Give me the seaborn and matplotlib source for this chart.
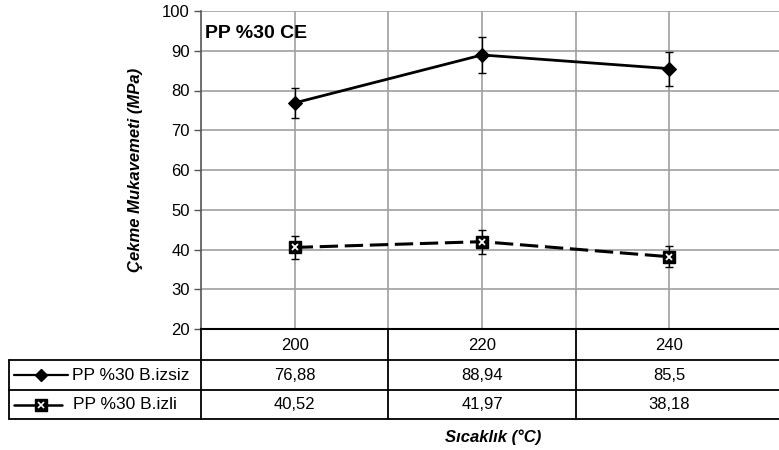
import numpy as np
import pandas as pd
import matplotlib
matplotlib.use("Agg")
import matplotlib.pyplot as plt
import seaborn as sns
from matplotlib.lines import Line2D

# ---- data ----
categories = ["200", "220", "240"]
series_names = ["PP %30 B.izsiz", "PP %30 B.izli"]
vals_izsiz = [76.88, 88.94, 85.5]
vals_izli = [40.52, 41.97, 38.18]
err_izsiz = [3.8, 4.5, 4.3]
err_izli = [2.9, 3.0, 2.65]
labels_izsiz = ["76,88", "88,94", "85,5"]
labels_izli = ["40,52", "41,97", "38,18"]
y_ticks = [20, 30, 40, 50, 60, 70, 80, 90, 100]

sns.set_theme(style="white")
plt.rcParams['font.family'] = ['Liberation Sans', 'DejaVu Sans']
plt.rcParams['text.color'] = 'black'
plt.rcParams['axes.labelcolor'] = 'black'

W, H = 779, 450
fig = plt.figure(figsize=(W / 100, H / 100), dpi=100)

def fy(py):
    return (H - py) / H

def fx(px):
    return px / W

left_px, right_px, top_px, bot_px = 201, 779, 11, 329
ax = fig.add_axes([fx(left_px), fy(bot_px), fx(right_px) - fx(left_px), fy(top_px) - fy(bot_px)])

xpos = np.arange(len(categories))
df = pd.DataFrame({
    "x": np.concatenate([xpos, xpos]),
    "y": vals_izsiz + vals_izli,
    "s": [series_names[0]] * 3 + [series_names[1]] * 3,
})

sns.lineplot(data=df[df.s == series_names[0]], x="x", y="y", ax=ax, color="black",
             lw=2, marker="D", markersize=7.5, markeredgecolor="black", legend=False, zorder=4)
sns.lineplot(data=df[df.s == series_names[1]], x="x", y="y", ax=ax, color="black",
             lw=2.2, legend=False, zorder=4)
ax.lines[-1].set_dashes([6, 2.2])
ax.errorbar(xpos, vals_izsiz, yerr=err_izsiz, fmt="none", ecolor="black", elinewidth=1, capsize=3, capthick=1, zorder=3)
ax.errorbar(xpos, vals_izli, yerr=err_izli, fmt="none", ecolor="black", elinewidth=1, capsize=3, capthick=1, zorder=3)
ax.plot(xpos, vals_izli, ls="none", marker="s", markersize=8, color="black", zorder=5)
ax.plot(xpos, vals_izli, ls="none", marker="x", markersize=4, color="white", mew=1.3, zorder=6)

ax.set_ylim(20, 100)
ax.set_yticks(y_ticks)
ax.set_xlim(-0.5, 2.5 + (right_px - 763) / 187)
ax.set_xticks([])
ax.set_xlabel("")
ax.set_ylabel("Çekme Mukavemeti (MPa)", fontsize=12, fontweight="bold", fontstyle="italic", labelpad=14)
ax.tick_params(axis="y", labelsize=12, length=5, width=1, color="#555555", labelcolor="black",
               direction="out", left=True, pad=3)

# grid
for yv in y_ticks[1:-1] + [100]:
    ax.axhline(yv, color="#a0a0a0", lw=1.2, zorder=1)
for xv in list(xpos) + [0.5, 1.5]:
    ax.axvline(xv, color="#a0a0a0", lw=1.2, zorder=1)

for s in ["top", "right"]:
    ax.spines[s].set_visible(False)
ax.spines["left"].set_color("#555555")
ax.spines["left"].set_linewidth(1.2)
ax.spines["bottom"].set_color("black")
ax.spines["bottom"].set_linewidth(1.5)

ax.text(0.007, 0.93, "PP %30 CE", transform=ax.transAxes, fontsize=14, fontweight="bold",
        ha="left", va="center")

# ---- data table ----
lc = "black"
def hline(py, x0, x1, lw=1.3):
    fig.add_artist(Line2D([fx(x0), fx(x1)], [fy(py), fy(py)], color=lc, lw=lw))
def vline(px, y0, y1, lw=1.3):
    fig.add_artist(Line2D([fx(px), fx(px)], [fy(y0), fy(y1)], color=lc, lw=lw))

def data_to_px(xv):
    disp = ax.transData.transform((xv, 50))
    return disp[0]

hline(360, 9, 779)
hline(390, 9, 779)
hline(419, 9, 779)
vline(201, 329, 419)
vline(9, 360, 419)
for b in [0.5, 1.5]:
    vline(data_to_px(b), 329, 419)

for i, c in enumerate(categories):
    px = data_to_px(xpos[i])
    fig.text(fx(px), fy(345), c, ha="center", va="center", fontsize=12)
    fig.text(fx(px), fy(375), labels_izsiz[i], ha="center", va="center", fontsize=12)
    fig.text(fx(px), fy(404.5), labels_izli[i], ha="center", va="center", fontsize=12)

# legend keys
fig.add_artist(Line2D([fx(14), fx(68)], [fy(375), fy(375)], color="black", lw=1.6))
fig.add_artist(Line2D([fx(41)], [fy(375)], color="black", marker="D", markersize=6, ls="none"))
fig.add_artist(Line2D([fx(14), fx(62)], [fy(404.5), fy(404.5)], color="black", lw=1.8))
fig.add_artist(Line2D([fx(41)], [fy(404.5)], color="black", marker="s", markersize=8, ls="none"))
fig.add_artist(Line2D([fx(41)], [fy(404.5)], color="white", marker="x", markersize=4, mew=1.2, ls="none"))
fig.text(fx(72), fy(375), series_names[0], ha="left", va="center", fontsize=12.5)
fig.text(fx(73), fy(404.5), series_names[1], ha="left", va="center", fontsize=12.5)

fig.text(fx(493), fy(437), "Sıcaklık (°C)", ha="center", va="center", fontsize=12,
         fontweight="bold", fontstyle="italic")

fig.savefig("out.png", dpi=100)
